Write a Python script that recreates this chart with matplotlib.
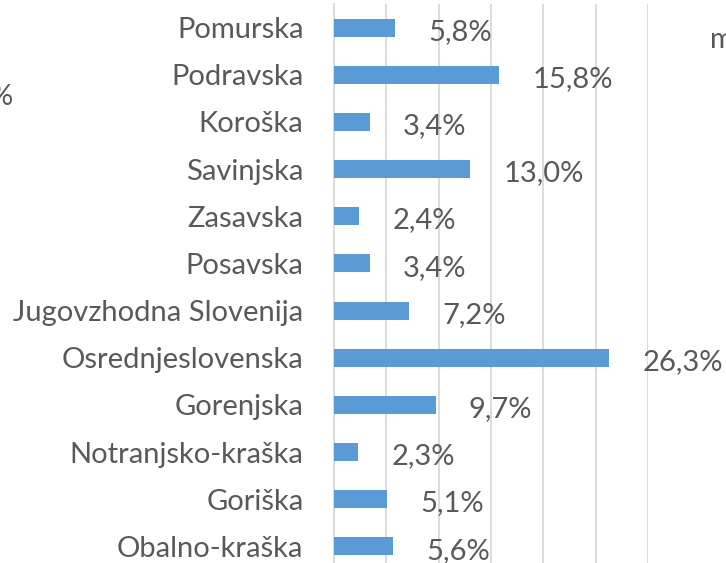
import matplotlib
matplotlib.use("Agg")
import matplotlib.pyplot as plt

regions = ["Pomurska", "Podravska", "Koroška", "Savinjska", "Zasavska", "Posavska",
           "Jugovzhodna Slovenija", "Osrednjeslovenska", "Gorenjska",
           "Notranjsko-kraška", "Goriška", "Obalno-kraška"]
shares = [5.8, 15.8, 3.4, 13.0, 2.4, 3.4, 7.2, 26.3, 9.7, 2.3, 5.1, 5.6]

BAR = "#5B9BD5"
TXT = "#595959"
GRID = "#D9D9D9"
FS = 21

plt.rcParams["font.family"] = ["Lato", "DejaVu Sans"]

W, H = 726, 563
fig = plt.figure(figsize=(W / 100, H / 100), dpi=100)
ax = fig.add_axes([334 / W, 1 - 570 / H, (648 - 334) / W, (570 - 4) / H])

y = list(range(len(regions)))
ax.barh(y, shares, height=0.38, color=BAR, zorder=3)
ax.set_ylim(len(regions) - 0.5, -0.5)
ax.set_xlim(0, 30)
ax.set_xticks(range(0, 31, 5))
ax.xaxis.grid(True, color=GRID, linewidth=1.3, zorder=0)
ax.tick_params(axis="x", length=0, labelbottom=False)
ax.tick_params(axis="y", length=0, pad=22, labelsize=FS, labelcolor=TXT)
ax.set_yticks(y)
ax.set_yticklabels(regions)
for s in ["top", "right", "bottom"]:
    ax.spines[s].set_visible(False)
ax.spines["left"].set_color(GRID)
ax.spines["left"].set_linewidth(1.3)

for yi, v in zip(y, shares):
    lab = f"{v:.1f}%".replace(".", ",")
    ax.annotate(lab, (v, yi), xytext=(24, -3), textcoords="offset points",
                ha="left", va="center", fontsize=FS, color=TXT, annotation_clip=False)

# fragments of neighbouring elements cut off by the crop
fig.text(13 / W, 1 - 97 / H, "%", ha="right", va="center", fontsize=FS, color=TXT)
fig.text(710 / W, 1 - 40 / H, "m", ha="left", va="center", fontsize=FS, color=TXT)

fig.savefig("out.png", dpi=100)
